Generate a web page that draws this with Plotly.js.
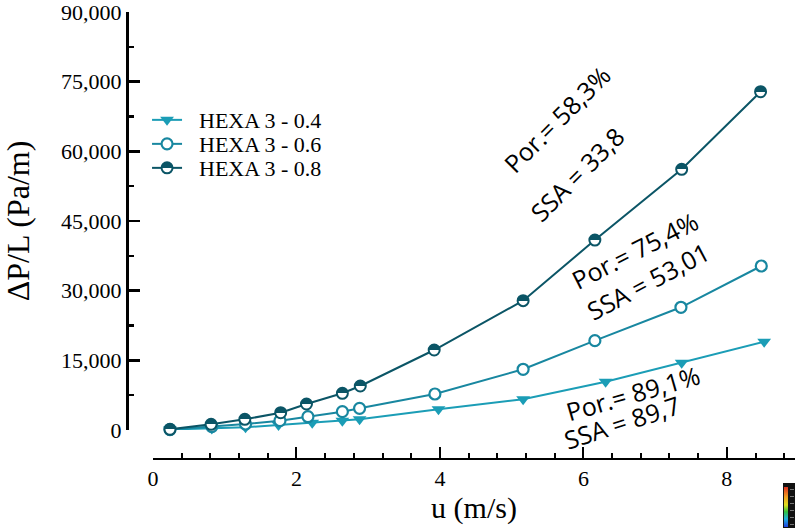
<!DOCTYPE html>
<html>
<head>
<meta charset="utf-8">
<script src="https://cdn.plot.ly/plotly-3.0.1.min.js"></script>
<style>
  html, body { margin: 0; padding: 0; background: #fff; }
  #chart { width: 795px; height: 528px; }
</style>
</head>
<body>
<div id="chart"></div>
<script>
// Pressure drop per unit length vs superficial velocity, three HEXA 3 samples
const seriesNames = ['HEXA 3 - 0.4', 'HEXA 3 - 0.6', 'HEXA 3 - 0.8'];

const u04  = [0.237, 0.82, 1.29, 1.75, 2.22, 2.64, 2.88, 3.98, 5.16, 6.31, 7.37, 8.52];
const dp04 = [100, 300, 580, 1080, 1570, 2000, 2300, 4460, 6610, 10400, 14490, 19010];

const u06  = [0.237, 0.82, 1.29, 1.77, 2.16, 2.64, 2.88, 3.93, 5.16, 6.16, 7.36, 8.48];
const dp06 = [100, 710, 1290, 2000, 2860, 3940, 4670, 7750, 13070, 19230, 26420, 35310];

const u08  = [0.237, 0.81, 1.28, 1.78, 2.14, 2.64, 2.89, 3.92, 5.16, 6.16, 7.37, 8.47];
const dp08 = [150, 1230, 2300, 3720, 5600, 7900, 9470, 17220, 27840, 40900, 56130, 72840];

const yTicks = [0, 15000, 30000, 45000, 60000, 75000, 90000];
const xTicks = [0, 2, 4, 6, 8];

// Porosity / specific-surface labels for each sample
const noteText = ['Por.= 58,3%', 'SSA = 33,8', 'Por.= 75,4%', 'SSA = 53,01', 'Por.= 89,1%', 'SSA = 89,7'];

const cLight = '#1b9db6';
const cMid   = '#1887a0';
const cDark  = '#0b5566';

const traces = [
  {
    x: u04, y: dp04, name: seriesNames[0], type: 'scatter', mode: 'lines+markers',
    line: { color: cLight, width: 2 },
    marker: { symbol: 'triangle-down', size: 12, color: cLight, line: { width: 0 } },
    cliponaxis: false
  },
  {
    x: u06, y: dp06, name: seriesNames[1], type: 'scatter', mode: 'lines+markers',
    line: { color: cMid, width: 2 },
    marker: { symbol: 'circle', size: 11, color: '#ffffff', line: { color: cMid, width: 2.2 } },
    cliponaxis: false
  },
  {
    x: u08, y: dp08, name: seriesNames[2], type: 'scatter', mode: 'lines+markers',
    line: { color: cDark, width: 2 },
    marker: { symbol: 'circle', size: 11, color: cDark,
              gradient: { type: 'vertical', color: '#ffffff' },
              line: { color: cDark, width: 2 } },
    cliponaxis: false
  }
];

const serif = 'Liberation Serif, Times New Roman, serif';
const sans = 'Open Sans, Noto Sans, sans-serif';

function note(i, x, y, angle) {
  return { text: noteText[i], x: x, y: y, xref: 'x', yref: 'y', showarrow: false,
           textangle: angle, font: { family: sans, size: 25, color: '#000' } };
}

// little colour-scale swatch in the lower right corner
const swatch = 'data:image/svg+xml;utf8,' + encodeURIComponent(
  '<svg xmlns="http://www.w3.org/2000/svg" width="12" height="45" viewBox="0 0 12 45">' +
  '<defs><linearGradient id="r" x1="0" y1="0" x2="0" y2="1">' +
  '<stop offset="0" stop-color="#e03020"/><stop offset="0.25" stop-color="#f0a020"/>' +
  '<stop offset="0.45" stop-color="#e0e020"/><stop offset="0.62" stop-color="#30c040"/>' +
  '<stop offset="0.8" stop-color="#20b0e0"/><stop offset="1" stop-color="#2040e0"/></linearGradient></defs>' +
  '<rect width="12" height="45" fill="#111"/><rect x="1" y="4" width="4" height="40" fill="url(#r)"/>' +
  '<g fill="#777"><rect x="7" y="6" width="4" height="1"/><rect x="7" y="13" width="4" height="1"/>' +
  '<rect x="7" y="20" width="4" height="1"/><rect x="7" y="27" width="4" height="1"/>' +
  '<rect x="7" y="34" width="4" height="1"/><rect x="7" y="41" width="4" height="1"/></g></svg>');

const layout = {
  width: 795, height: 528,
  margin: { l: 127, r: 0, t: 12, b: 69 },
  paper_bgcolor: '#ffffff', plot_bgcolor: '#ffffff',
  showlegend: true,
  legend: {
    x: 0.03, y: 0.803, xanchor: 'left', yanchor: 'top',
    bgcolor: 'rgba(0,0,0,0)', borderwidth: 0,
    font: { family: serif, size: 22, color: '#000' },
    itemwidth: 30
  },
  xaxis: {
    domain: [0.0389, 1], anchor: 'free', position: 0,
    range: [0, 8.95], tickvals: xTicks, ticktext: xTicks.map(String),
    showgrid: false, zeroline: false,
    showline: true, linecolor: '#000', linewidth: 2,
    ticks: 'inside', ticklen: 11, tickwidth: 2, tickcolor: '#000',
    minor: { dtick: 0.4, tick0: 0, ticks: 'inside', ticklen: 5, tickwidth: 2, tickcolor: '#000', showgrid: false },
    tickfont: { family: serif, size: 22, color: '#000' },
    ticklabeloverflow: 'allow',
    title: { text: 'u (m/s)', font: { family: serif, size: 30, color: '#000' }, standoff: 0 }
  },
  yaxis: {
    domain: [0.0649, 1], anchor: 'free', position: 0,
    range: [0, 90000], tickvals: yTicks, tickformat: ',d',
    showgrid: false, zeroline: false,
    showline: true, linecolor: '#000', linewidth: 3,
    ticks: 'inside', ticklen: 11, tickwidth: 2.5, tickcolor: '#000',
    minor: { dtick: 7500, tick0: 0, ticks: 'inside', ticklen: 5, tickwidth: 2.5, tickcolor: '#000', showgrid: false },
    tickfont: { family: serif, size: 22, color: '#000' },
    ticklabeloverflow: 'allow',
    title: { text: 'ΔP/L (Pa/m)', font: { family: serif, size: 32, color: '#000' }, standoff: 24 }
  },
  annotations: [
    note(0, 5.63, 66960, -45),
    note(1, 5.91, 55120, -45),
    note(2, 6.72, 38760, -27),
    note(3, 6.9, 32080, -28),
    note(4, 6.69, 7960, -16),
    note(5, 6.54, 1720, -18)
  ],
  images: [{
    source: swatch, xref: 'paper', yref: 'paper',
    x: 0.982, y: -0.0537, sizex: 0.018, sizey: 0.1007,
    xanchor: 'left', yanchor: 'top', sizing: 'stretch', layer: 'above'
  }]
};

Plotly.newPlot('chart', traces, layout, { staticPlot: true, displayModeBar: false }).then(function (gd) {
  // turn the vertical marker gradient into a hard split: filled top half, open bottom half
  gd.querySelectorAll('linearGradient').forEach(function (g) {
    const stops = g.querySelectorAll('stop');
    if (stops.length === 2) {
      stops[0].setAttribute('offset', '50%');
      stops[1].setAttribute('offset', '50%');
    }
  });
  // tighter legend rows and a wider gap between symbol and label
  const box = gd.querySelector('.legend .scrollbox');
  if (box) box.removeAttribute('clip-path');
  const items = gd.querySelectorAll('.legend .traces');
  let y0 = null;
  items.forEach(function (el, i) {
    const m = /translate\(([-\d.]+)[ ,]+([-\d.]+)\)/.exec(el.getAttribute('transform') || '');
    const tx = m ? parseFloat(m[1]) : 0;
    const ty = m ? parseFloat(m[2]) : 0;
    if (y0 === null) y0 = ty - 1;
    el.setAttribute('transform', 'translate(' + tx + ',' + (y0 + i * 24) + ')');
    const t = el.querySelector('text.legendtext');
    if (t) t.setAttribute('x', 52);
  });
});
</script>
</body>
</html>
